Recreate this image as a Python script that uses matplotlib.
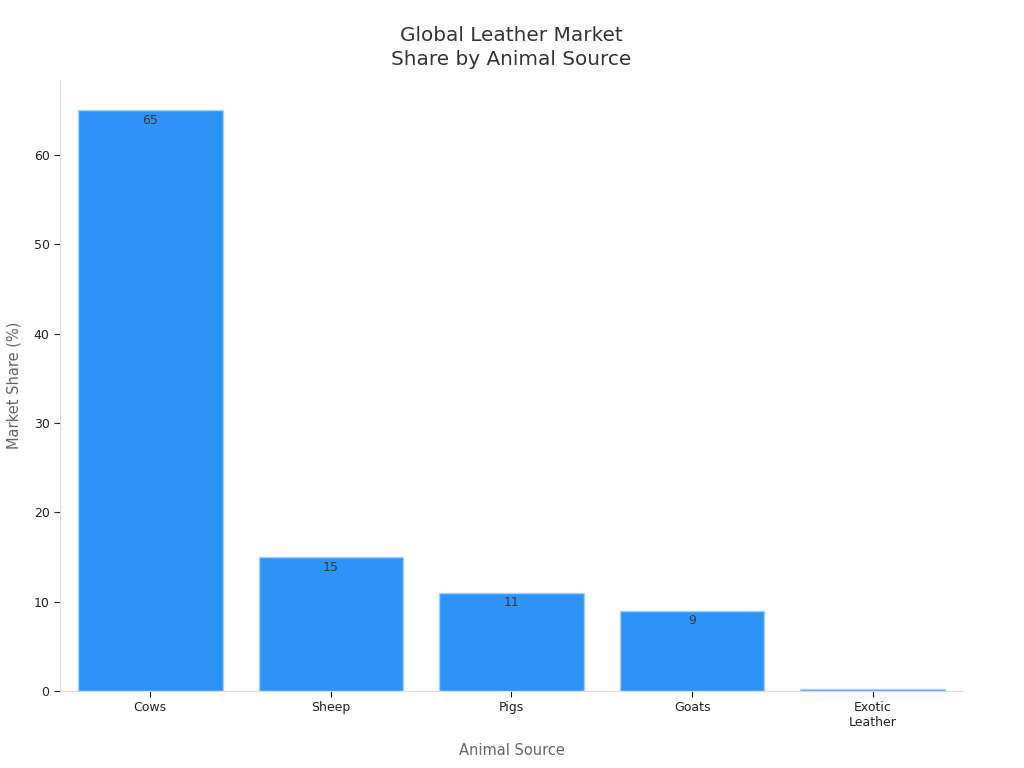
import matplotlib
matplotlib.use("Agg")
import matplotlib.pyplot as plt

categories = ["Cows", "Sheep", "Pigs", "Goats", "Exotic\nLeather"]
values = [65, 15, 11, 9, 0.2]
labels = ["65", "15", "11", "9", ""]

fig = plt.figure(figsize=(10.24, 7.68), dpi=100)
ax = fig.add_axes([0.0586, 0.1003, 0.8818, 0.7957])

bars = ax.bar(range(len(categories)), values, width=0.8, color="#2e93f7",
              edgecolor="#a8d0fa", linewidth=1)
for b, lab in zip(bars, labels):
    if lab:
        ax.text(b.get_x() + b.get_width() / 2, b.get_height() - 0.4, lab,
                ha="center", va="top", fontsize=9, color="#3a3a3a")

ax.set_xlim(-0.5, 4.5)
ax.set_ylim(0, 68.4)
ax.set_xticks(range(len(categories)))
ax.set_xticklabels(categories, fontsize=9, color="#222222")
ax.set_yticks([0, 10, 20, 30, 40, 50, 60])
ax.tick_params(axis="y", labelsize=9, colors="#222222", length=4)
ax.tick_params(axis="x", length=4)
for t in ax.get_yticklines() + ax.get_xticklines():
    t.set_color("#888888")
for s in ["top", "right"]:
    ax.spines[s].set_visible(False)
for s in ["left", "bottom"]:
    ax.spines[s].set_color("#dddddd")

ax.set_xlabel("Animal Source", fontsize=10.5, color="#666666", va="center")
ax.xaxis.set_label_coords(0.5, -0.0966)
ax.set_ylabel("Market Share (%)", fontsize=10.5, color="#666666", labelpad=9)
ax.set_title("Global Leather Market\nShare by Animal Source", fontsize=14.4,
             color="#333333", pad=11, linespacing=1.3)

fig.savefig("out.png", dpi=100)
